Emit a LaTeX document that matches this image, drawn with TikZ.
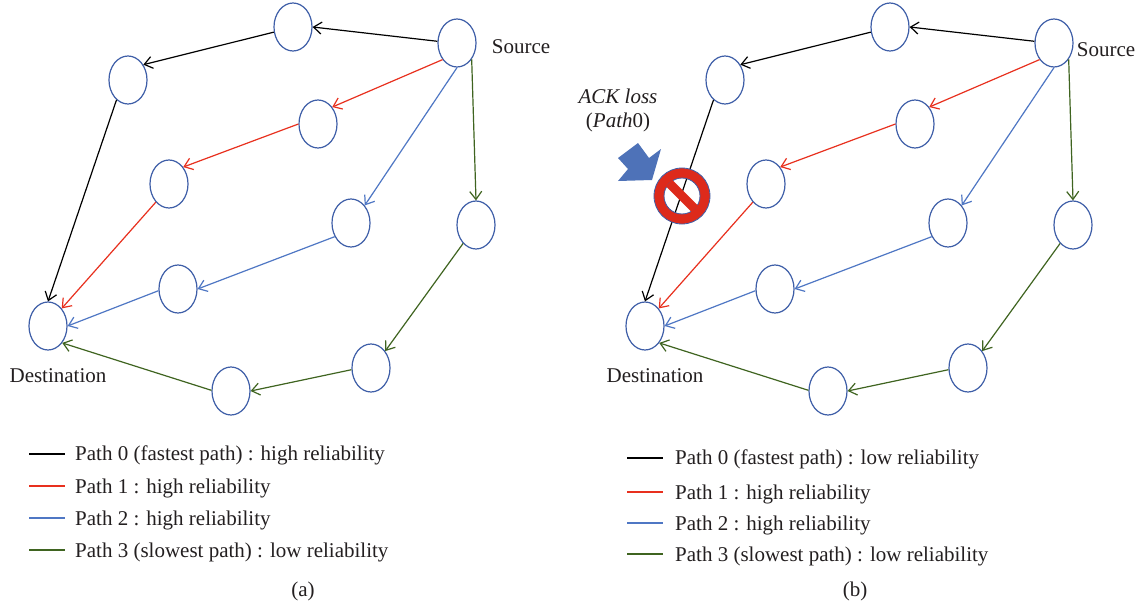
\documentclass[tikz,border=0pt]{standalone}
\usepackage{fontspec}
\setmainfont{Liberation Serif}
\usetikzlibrary{shapes.geometric,arrows.meta}
\definecolor{ringc}{HTML}{3F5FA8}
\definecolor{txt}{HTML}{231F20}
\definecolor{pred}{HTML}{E8301E}
\definecolor{pblue}{HTML}{4F77C4}
\definecolor{pgreen}{HTML}{3F6420}
\definecolor{banred}{HTML}{DD2A1B}
\definecolor{fatb}{HTML}{4E72B8}
\tikzset{
  hop/.style={draw=ringc,line width=1.2pt,ellipse,minimum width=38pt,minimum height=48pt,inner sep=0pt,fill=none},
  lbl/.style={text=txt,font=\fontsize{21}{24}\selectfont,inner sep=0pt},
  leg/.style={lbl,anchor=base west},
  link/.style={line width=1.2pt,-{Straight Barb[length=8pt,width=12pt,line width=1.2pt]}},
  p0/.style={link,black},
  p1/.style={link,pred},
  p2/.style={link,pblue},
  p3/.style={link,pgreen},
  keyline/.style={line width=1.2pt}
}
\newcommand{\panel}{%
  \node[hop] (S) at (457,43) {};
  \node[hop] (n1) at (293,27) {};
  \node[hop] (n2) at (128,80) {};
  \node[hop] (d) at (48,326) {};
  \node[hop] (r1) at (318,124) {};
  \node[hop] (r2) at (169,184) {};
  \node[hop] (b1) at (351,223) {};
  \node[hop] (b2) at (178,289) {};
  \node[hop] (g1) at (476,225) {};
  \node[hop] (g2) at (371,368) {};
  \node[hop] (g3) at (231,391) {};
  \draw[p0] (S.175) -- (n1.0);
  \draw[p0] (n1.195) -- (n2.45);
  \draw[p0] (n2.240) -- (d.90);
  \draw[p1] (S.229) -- (r1.50);
  \draw[p1] (r1.180) -- (r2.50);
  \draw[p1] (r2.234) -- (d.52);
  \draw[p2] (S.270) -- (b1.52);
  \draw[p2] (b1.220) -- (b2.0);
  \draw[p2] (b2.185) -- (d.0);
  \draw[p3] (S.312) -- (g1.90);
  \draw[p3] (g1.235) -- (g2.50);
  \draw[p3] (g2.185) -- (g3.0);
  \draw[p3] (g3.178) -- (d.-50);
  \node[lbl] (dest) at (58,376) {Destination};
}
\begin{document}
\begin{tikzpicture}[x=1pt,y=-1pt]
\useasboundingbox (0,0) rectangle (1146,610);
\fill[white] (0,0) rectangle (1146,610);
\begin{scope}[name prefix=a-]
  \panel
  \node[lbl] (src) at (521,47) {Source};
  \coordinate (k0a) at (29,454); \coordinate (k0b) at (65,454);
  \coordinate (k1a) at (29,486); \coordinate (k1b) at (65,486);
  \coordinate (k2a) at (29,518); \coordinate (k2b) at (65,518);
  \coordinate (k3a) at (29,550); \coordinate (k3b) at (65,550);
  \draw[keyline,black] (k0a) -- (k0b);
  \draw[keyline,pred] (k1a) -- (k1b);
  \draw[keyline,pblue] (k2a) -- (k2b);
  \draw[keyline,pgreen] (k3a) -- (k3b);
  \node[leg] (t0) at (75,460) {Path 0 (fastest path) : high reliability};
  \node[leg] (t1) at (75,493) {Path 1 : high reliability};
  \node[leg] (t2) at (75,525) {Path 2 : high reliability};
  \node[leg] (t3) at (75,557) {Path 3 (slowest path) : low reliability};
  \node[lbl] (cap) at (303,591) {(a)};
\end{scope}
\begin{scope}[name prefix=b-,shift={(597,0)}]
  \panel
  \node[lbl] (src) at (509,50) {Source};
\end{scope}
\begin{scope}[name prefix=b-]
  \coordinate (k0a) at (627,458); \coordinate (k0b) at (663,458);
  \coordinate (k1a) at (627,492); \coordinate (k1b) at (663,492);
  \coordinate (k2a) at (627,523); \coordinate (k2b) at (663,523);
  \coordinate (k3a) at (627,554); \coordinate (k3b) at (663,554);
  \draw[keyline,black] (k0a) -- (k0b);
  \draw[keyline,pred] (k1a) -- (k1b);
  \draw[keyline,pblue] (k2a) -- (k2b);
  \draw[keyline,pgreen] (k3a) -- (k3b);
  \node[leg] (t0) at (675,464) {Path 0 (fastest path) : low reliability};
  \node[leg] (t1) at (675,499) {Path 1 : high reliability};
  \node[leg] (t2) at (675,530) {Path 2 : high reliability};
  \node[leg] (t3) at (675,561) {Path 3 (slowest path) : low reliability};
  \node[lbl] (cap) at (855,591) {(b)};
  \node[lbl] (ack) at (618,96) {\itshape ACK loss};
  \node[lbl] (pth) at (618,122) {(\textit{Path}0)};
  \fill[fatb] (638,143) -- (649,158) -- (661,149) -- (652,180) -- (618,181) -- (628,169) -- (618,158) -- cycle;
  \draw[banred,line width=10pt] (682,196) circle (23);
  \draw[ringc,line width=0.8pt] (682,196) circle (28);
  \draw[ringc,line width=0.8pt] (682,196) circle (18);
  \draw[banred,line width=9pt] (669,183) -- (695,209);
\end{scope}
\end{tikzpicture}
\end{document}
